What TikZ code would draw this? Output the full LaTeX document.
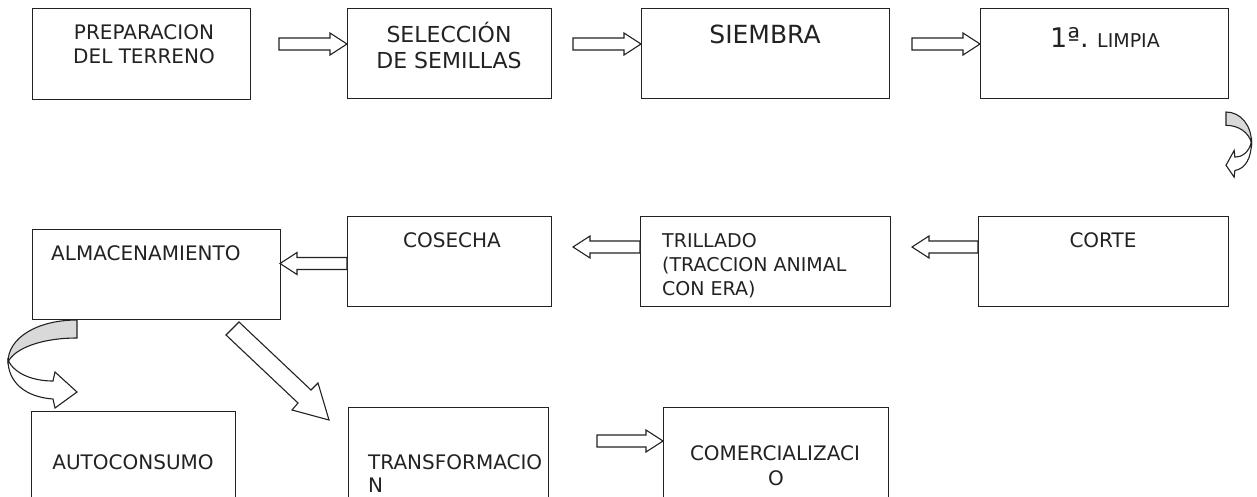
\documentclass[tikz,border=0pt]{standalone}
\usepackage{fontspec}
\setmainfont{DejaVu Sans}
\usetikzlibrary{calc}
\definecolor{ink}{HTML}{222222}
\definecolor{backgray}{HTML}{D9D9D9}
\tikzset{
  box/.style={draw=ink, line width=1.1pt, rectangle, inner sep=0pt, anchor=north west},
  txt/.style={text=ink, inner sep=0pt, font=\fontsize{20}{24}\selectfont},
  arrowline/.style={draw=ink, line width=1.1pt, fill=white, line join=miter},
  pics/harrow/.style={code={\draw[arrowline] (0,-6) -- (#1-17,-6) -- (#1-17,-11) -- (#1,0) -- (#1-17,11) -- (#1-17,6) -- (0,6) -- cycle;}},
  pics/curlarrow/.style={code={
    \draw[arrowline, fill=backgray] (0,0) .. controls (-40,0) and (-69,18) .. (-69,42) .. controls (-62,28) and (-35,18) .. (0,18) -- cycle;
    \draw[arrowline] (-69,40) .. controls (-62,55) and (-42,61) .. (-24,61) -- (-22,52) -- (0,72) -- (-22,88) -- (-24,79) .. controls (-52,77) and (-69,62) .. (-69,40) -- cycle;
  }},
}
\begin{document}
\begin{tikzpicture}[x=1pt, y=-1pt]
\useasboundingbox (0,0) rectangle (1257,496);
% row 1
\node[box, minimum width=218pt, minimum height=91pt] (prep) at (32,8) {};
\node[box, minimum width=204pt, minimum height=90pt] (sel) at (347,8) {};
\node[box, minimum width=248pt, minimum height=90pt] (siem) at (641,8) {};
\node[box, minimum width=248pt, minimum height=90pt] (limp) at (980,8) {};
% row 2
\node[box, minimum width=248pt, minimum height=90pt] (alm) at (32,229) {};
\node[box, minimum width=204pt, minimum height=90pt] (cos) at (347,216) {};
\node[box, minimum width=250pt, minimum height=90pt] (tri) at (640,216) {};
\node[box, minimum width=250pt, minimum height=90pt] (cor) at (978,216) {};
% row 3
\node[box, minimum width=204pt, minimum height=90pt] (auto) at (31,411) {};
\node[box, minimum width=200pt, minimum height=94pt] (trans) at (348,407) {};
\node[box, minimum width=225pt, minimum height=94pt] (com) at (663,407) {};
% texts
\node[txt, anchor=base] at (144,39) {PREPARACION};
\node[txt, anchor=base] at (144,63) {DEL TERRENO};
\node[txt, anchor=base, font=\fontsize{22}{26}\selectfont] at (449,42) {SELECCIÓN};
\node[txt, anchor=base, font=\fontsize{22}{26}\selectfont] at (449,68) {DE SEMILLAS};
\node[txt, anchor=base, font=\fontsize{25}{30}\selectfont] at (765,43) {SIEMBRA};
\node[txt, anchor=base] at (1105,47) {{\fontsize{27}{30}\selectfont 1ª.} {\fontsize{19}{22}\selectfont LIMPIA}};
\node[txt, anchor=base west] at (51,260) {ALMACENAMIENTO};
\node[txt, anchor=base] at (452,247) {COSECHA};
\node[txt, anchor=base west, font=\fontsize{19}{23}\selectfont] at (662,247) {TRILLADO};
\node[txt, anchor=base west, font=\fontsize{19}{23}\selectfont] at (662,271) {(TRACCION ANIMAL};
\node[txt, anchor=base west, font=\fontsize{19}{23}\selectfont] at (662,295) {CON ERA)};
\node[txt, anchor=base] at (1103,247) {CORTE};
\node[txt, anchor=base] at (133,469) {AUTOCONSUMO};
\node[txt, anchor=base west] at (368,469) {TRANSFORMACIO};
\node[txt, anchor=base west] at (368,492) {N};
\node[txt, anchor=base] at (775,460) {COMERCIALIZACI};
\node[txt, anchor=base] at (776,485) {O};
% straight block arrows
\pic at (279,44) {harrow=68};
\pic at (573,44) {harrow=68};
\pic at (912,44) {harrow=68};
\pic[rotate=180] at (347,263.5) {harrow=67};
\pic[rotate=180] at (640,247) {harrow=67};
\pic[rotate=180] at (978,247) {harrow=66};
\pic at (597,441) {harrow=66};
% diagonal block arrow
\draw[arrowline] (239,322) -- (311,390) -- (318,383) -- (329,420) -- (292,410) -- (298,403) -- (226,335) -- cycle;
% curved arrows
\pic at (77,320) {curlarrow};
\pic[xscale=-0.37, yscale=0.74] at (1226,112) {curlarrow};
\end{tikzpicture}
\end{document}
